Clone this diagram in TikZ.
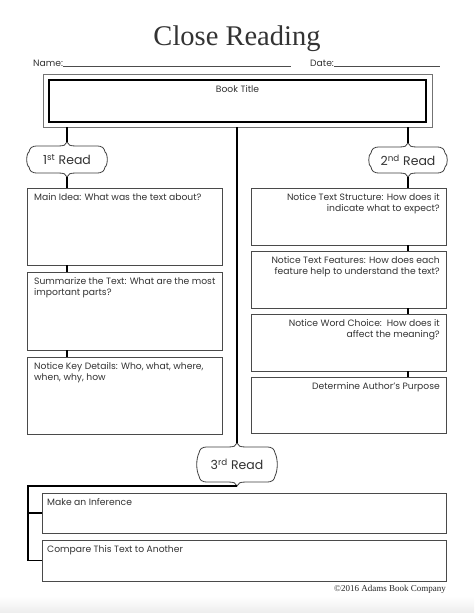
\documentclass[tikz,border=0pt]{standalone}
\usepackage{fontspec}
\setmainfont{Poppins}
\newfontfamily\serifx{Liberation Serif}
\usetikzlibrary{calc}
\definecolor{ink}{HTML}{333333}
\definecolor{edge}{HTML}{4A4A4A}
\tikzset{
  boxnode/.style={draw=edge, line width=1pt, minimum width=195pt, outer sep=0pt, inner sep=0pt},
  lbl/.style={text=ink, font=\fontsize{9.2}{11.5}\selectfont, inner sep=0pt},
  tlbl/.style={lbl, anchor=north west, align=left, xshift=7pt, yshift=-5pt},
  trbl/.style={lbl, anchor=north east, align=right, xshift=-6pt, yshift=-5pt},
  pillowtext/.style={text=ink, font=\fontsize{12.5}{14}\selectfont, outer sep=0pt, inner sep=0pt, minimum width=80pt},
  pillowline/.style={draw=black!75, line width=0.8pt},
  link/.style={draw=black, line width=1.6pt},
  spine/.style={draw=black, line width=2pt},
}
\newcommand\pillow[1]{%
 \draw[pillowline]
 (#1.north)
 .. controls ($(#1.north)+(1,3)$) and ($(#1.north)+(3,4)$) .. ($(#1.north)+(9,4)$)
 -- ($(#1.north east)+(-11,4)$)
 .. controls ($(#1.north east)+(-4,4)$) and ($(#1.north east)+(-3,6)$) .. ($(#1.north east)+(-2,10)$)
 .. controls ($(#1.east)+(1,-6)$) and ($(#1.east)+(1,6)$) .. ($(#1.south east)+(-2,-10)$)
 .. controls ($(#1.south east)+(-3,-6)$) and ($(#1.south east)+(-4,-4)$) .. ($(#1.south east)+(-11,-4)$)
 -- ($(#1.south)+(9,-4)$)
 .. controls ($(#1.south)+(3,-4)$) and ($(#1.south)+(1,-3)$) .. (#1.south)
 .. controls ($(#1.south)+(-1,-3)$) and ($(#1.south)+(-3,-4)$) .. ($(#1.south)+(-9,-4)$)
 -- ($(#1.south west)+(11,-4)$)
 .. controls ($(#1.south west)+(4,-4)$) and ($(#1.south west)+(3,-6)$) .. ($(#1.south west)+(2,-10)$)
 .. controls ($(#1.west)+(-1,6)$) and ($(#1.west)+(-1,-6)$) .. ($(#1.north west)+(2,10)$)
 .. controls ($(#1.north west)+(3,6)$) and ($(#1.north west)+(4,4)$) .. ($(#1.north west)+(11,4)$)
 -- ($(#1.north)+(-9,4)$)
 .. controls ($(#1.north)+(-3,4)$) and ($(#1.north)+(-1,3)$) .. (#1.north);}
\begin{document}
\begin{tikzpicture}[x=1pt,y=-1pt]
\useasboundingbox[fill=white] (0,0) rectangle (474,613);
\shade[top color=white, bottom color=black!7] (0,596) rectangle (474,613);

% header
\node[anchor=base, text=black!80, font=\serifx\fontsize{28.5}{30}\selectfont, inner sep=0pt] (title) at (237,45) {Close Reading};
\node[anchor=base west, lbl] (namelbl) at (33,66) {Name:};
\coordinate (nameend) at (291,66.5);
\draw[black!70, line width=0.6pt] (namelbl.base east |- nameend) -- (nameend);
\node[anchor=base west, lbl] (datelbl) at (310,66) {Date:};
\coordinate (dateend) at (440,66.5);
\draw[black!70, line width=0.6pt] (datelbl.base east |- dateend) -- (dateend);

% book title
\node[draw=black!55, line width=0.8pt, minimum width=389pt, minimum height=53pt, outer sep=0pt] (outer) at (237.5,100.5) {};
\node[draw=black, line width=2.6pt, minimum width=377pt, minimum height=42pt, outer sep=0pt,
      label={[lbl, anchor=north, yshift=-5pt]north:Book Title}] (book) at (237.5,101) {};

% pillows
\node[pillowtext, minimum height=35pt] (p1) at (67,159.5) {1\textsuperscript{st} Read};
\node[pillowtext, minimum height=34pt, minimum width=78pt] (p2) at (408,160) {2\textsuperscript{nd} Read};
\node[pillowtext, minimum height=43pt] (p3) at (237,464.5) {3\textsuperscript{rd} Read};
\pillow{p1}\pillow{p2}\pillow{p3}

% left boxes
\node[boxnode, minimum height=77pt, label={[tlbl]north west:Main Idea: What was the text about?}] (b1) at (124.5,226.5) {};
\node[boxnode, minimum height=78pt, label={[tlbl]north west:Summarize the Text: What are the most\\important parts?}] (b2) at (124.5,311) {};
\node[boxnode, minimum height=77pt, label={[tlbl]north west:Notice Key Details: Who, what, where,\\when, why, how}] (b3) at (124.5,395.5) {};

% right boxes
\node[boxnode, minimum height=57pt, label={[trbl]north east:Notice Text Structure: How does it\\indicate what to expect?}] (r1) at (348.5,216.5) {};
\node[boxnode, minimum height=57pt, label={[trbl]north east:Notice Text Features: How does each\\feature help to understand the text?}] (r2) at (348.5,279.5) {};
\node[boxnode, minimum height=57pt, label={[trbl]north east:Notice Word Choice:\ \ How does it\\affect the meaning?}] (r3) at (348.5,342.5) {};
\node[boxnode, minimum height=56pt, label={[trbl]north east:Determine Author's Purpose}] (r4) at (348.5,405) {};

% bottom boxes
\node[boxnode, minimum width=404pt, minimum height=40pt, label={[tlbl, xshift=-2pt]north west:Make an Inference}] (m1) at (244,513) {};
\node[boxnode, minimum width=404pt, minimum height=41pt, label={[tlbl, xshift=-2pt]north west:Compare This Text to Another}] (m2) at (244,560.5) {};

% connectors
\draw[link] (p1 |- outer.south) -- (p1.north);
\draw[link] (p2 |- outer.south) -- (p2.north);
\draw[link] (p1.south) -- (p1 |- b1.north);
\draw[link] (p1 |- b1.south) -- (p1 |- b2.north);
\draw[link] (p1 |- b2.south) -- (p1 |- b3.north);
\draw[link] (p2.south) -- (p2 |- r1.north);
\draw[link] (p2 |- r1.south) -- (p2 |- r2.north);
\draw[link] (p2 |- r2.south) -- (p2 |- r3.north);
\draw[link] (p2 |- r3.south) -- (p2 |- r4.north);
\draw[spine] (outer.south -| p3) -- (p3.north);
\coordinate (lft) at (28,487.5);
\draw[link, line join=miter] (p3.south) -- (p3.south -| lft) -- (lft |- m2.west) -- (m2.west);
\draw[link] (lft |- m1.west) -- (m1.west);

% copyright
\node[anchor=base east, inner sep=0pt, text=black!85, font=\serifx\fontsize{9}{10}\selectfont] (copy) at (446,591) {\textcopyright 2016 Adams Book Company};
\end{tikzpicture}
\end{document}
